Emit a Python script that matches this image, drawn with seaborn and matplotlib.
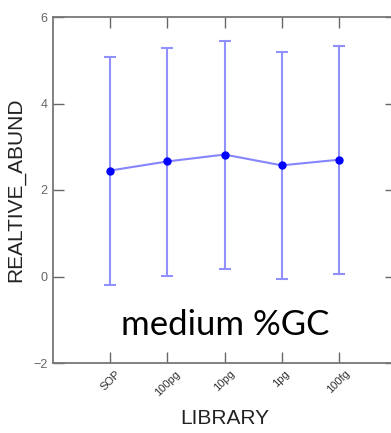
import seaborn as sns
import matplotlib.pyplot as plt
import pandas as pd

libraries = ["SOP", "100pg", "10pg", "1pg", "100fg"]
mean_abund = [2.45, 2.66, 2.82, 2.57, 2.70]
upper = [5.08, 5.28, 5.44, 5.20, 5.32]
lower = [-0.20, 0.01, 0.18, -0.06, 0.06]

df = pd.DataFrame({"LIBRARY": libraries, "REALTIVE_ABUND": mean_abund})

sns.set_style("ticks")
plt.rcParams['font.family'] = ['Liberation Sans', 'DejaVu Sans']

fig = plt.figure(figsize=(3.91, 4.33), dpi=100)
ax = fig.add_axes([53 / 391, 70 / 433, 343 / 391, 346 / 433])

xpos = list(range(len(libraries)))
yerr = [[m - l for m, l in zip(mean_abund, lower)],
        [u - m for m, u in zip(mean_abund, upper)]]
ax.errorbar(xpos, mean_abund, yerr=yerr, fmt="none", ecolor="#9090ff",
            elinewidth=1.5, capsize=4, capthick=1.5, zorder=1)
sns.lineplot(data=df, x=xpos, y="REALTIVE_ABUND", ax=ax, color="#8585ff",
             linewidth=1.5, zorder=2)
ax.plot(xpos, mean_abund, "o", color="#0000ff", markersize=5, zorder=3)

ax.set_xlim(-1, 5)
ax.set_ylim(-2, 6)
ax.set_yticks([-2, 0, 2, 4, 6])
ax.set_xticks(xpos)
ax.set_xticklabels(libraries, rotation=45, fontsize=8, color="#333333")
ax.tick_params(axis="y", labelsize=9, labelcolor="#666666")
ax.tick_params(direction="in", length=8, width=1, color="#666666",
               top=True, right=True, pad=4)
for s in ax.spines.values():
    s.set_color("#777777")
    s.set_linewidth(1.3)

ax.set_xlabel("LIBRARY", fontsize=15, color="#222222", labelpad=8)
ax.set_ylabel("REALTIVE_ABUND", fontsize=15, color="#222222", labelpad=6)

ax.text(2 + 0.02, -1.12, "medium %GC", family=["Lato", "DejaVu Sans"],
        fontsize=25, color="black", ha="center", va="center")

fig.savefig("out.png", dpi=100)
